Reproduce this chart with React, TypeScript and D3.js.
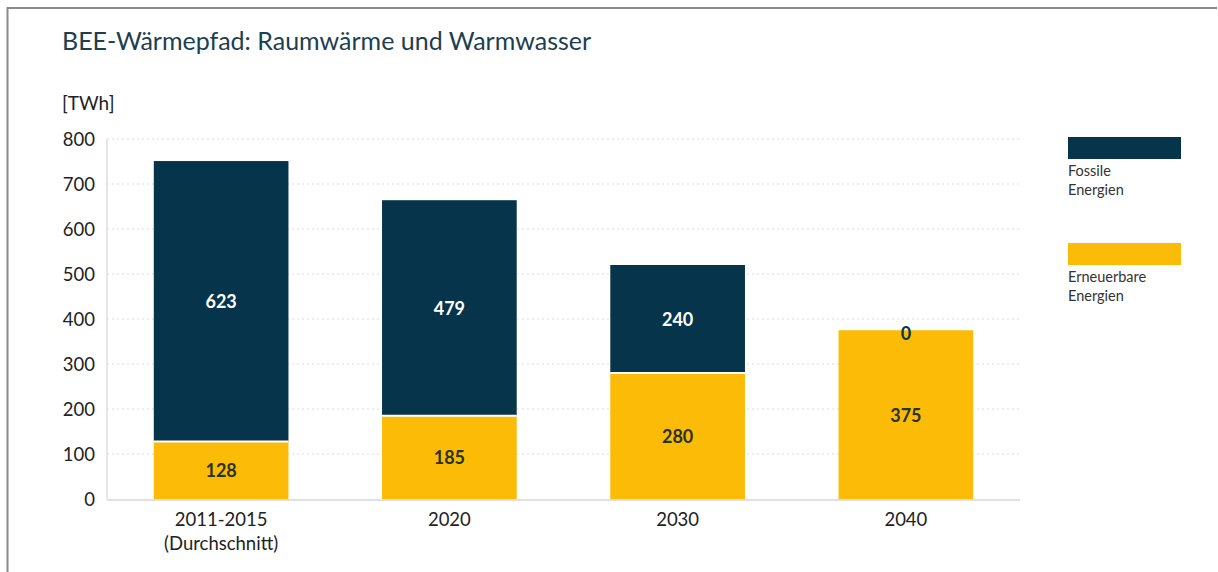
import React from "react";
import * as d3 from "d3";

const categories = ["2011-2015\n(Durchschnitt)", "2020", "2030", "2040"];
const erneuerbar = [128, 185, 280, 375];
const fossil = [623, 479, 240, 0];
const yTicks = [0, 100, 200, 300, 400, 500, 600, 700, 800];
const seriesNames = ["Fossile\nEnergien", "Erneuerbare\nEnergien"];

const NAVY = "#06344a";
const YELLOW = "#fbbb07";
const FONT = "Lato, 'Noto Sans', sans-serif";

export default function App() {
  const W = 1218, H = 572;
  const left = 107, right = 1020, top = 139, bottom = 499;
  const x = d3.scaleBand<string>().domain(categories).range([left, right]).paddingInner(0.41).paddingOuter(0.205);
  const y = d3.scaleLinear().domain([0, 800]).range([bottom, top]);

  return (
    <svg width={W} height={H} style={{ position: "absolute", left: 0, top: 0, background: "#fff" }} fontFamily={FONT}>
      <rect x={0} y={0} width={W} height={H} fill="#fff" />
      {/* frame */}
      <line x1={7.5} y1={8} x2={1217} y2={8} stroke="#8a8a8a" strokeWidth={2} />
      <line x1={7.5} y1={7} x2={7.5} y2={572} stroke="#8a8a8a" strokeWidth={2} />
      <text x={62} y={50} fontSize={25} fill="#1d3f50">BEE-Wärmepfad: Raumwärme und Warmwasser</text>
      <text x={62} y={110} fontSize={19} fill="#222">[TWh]</text>
      {/* grid */}
      {yTicks.filter(t => t > 0).map(t => (
        <line key={t} x1={left} x2={right} y1={y(t)} y2={y(t)} stroke="#dcdcdc" strokeWidth={1.2} strokeDasharray="2,3" />
      ))}
      <line x1={left} x2={left} y1={top} y2={bottom} stroke="#e6e6e6" strokeWidth={2} />
      <line x1={left} x2={right} y1={bottom + 1} y2={bottom + 1} stroke="#e0e0e0" strokeWidth={2} />
      {yTicks.map(t => (
        <text key={t} x={95} y={y(t) + 6.5} fontSize={18.5} fill="#222" textAnchor="end">{t}</text>
      ))}
      {categories.map((c, i) => {
        const bx = x(c)!;
        const bw = x.bandwidth();
        const cx = bx + bw / 2;
        const y0 = y(0), y1 = y(erneuerbar[i]), y2 = y(erneuerbar[i] + fossil[i]);
        return (
          <g key={c}>
            <rect x={bx} y={y1} width={bw} height={y0 - y1} fill={YELLOW} />
            {fossil[i] > 0 && <rect x={bx} y={y2} width={bw} height={y1 - y2} fill={NAVY} />}
            {fossil[i] > 0 && <line x1={bx} x2={bx + bw} y1={y1} y2={y1} stroke="#fff" strokeWidth={2} />}
            <text x={cx} y={(y0 + y1) / 2 + 7} fontSize={18} fontWeight="bold" fill="#2a3320" textAnchor="middle">{erneuerbar[i]}</text>
            <text x={cx} y={(y1 + y2) / 2 + 7 + (fossil[i] > 0 ? 0 : 3)} fontSize={18} fontWeight="bold" fill={fossil[i] > 0 ? "#fff" : NAVY} textAnchor="middle">{fossil[i]}</text>
            {c.split("\n").map((line, k) => (
              <text key={k} x={cx} y={526 + k * 24} fontSize={18.5} fill="#222" textAnchor="middle">{line}</text>
            ))}
          </g>
        );
      })}
      {/* legend */}
      {seriesNames.map((s, i) => (
        <g key={s}>
          <rect x={1068} y={137 + i * 106} width={113} height={22} fill={i === 0 ? NAVY : YELLOW} />
          {s.split("\n").map((line, k) => (
            <text key={k} x={1068} y={176 + i * 106 + k * 19} fontSize={14.5} fill="#333">{line}</text>
          ))}
        </g>
      ))}
    </svg>
  );
}
